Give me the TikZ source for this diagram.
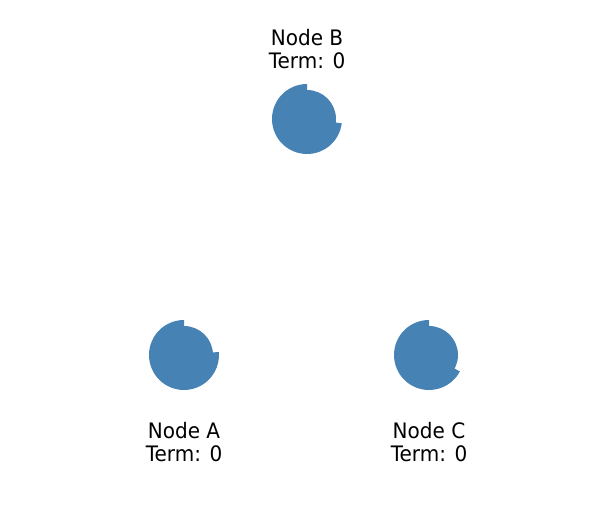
\documentclass[tikz,border=0pt]{standalone}
\usepackage{fontspec}
\setmainfont{DejaVu Sans}[FakeStretch=0.94]
\usetikzlibrary{positioning}
\definecolor{steelblue}{HTML}{4682B4}

\begin{document}
\begin{tikzpicture}[
    x=1pt, y=1pt,
    core/.style={fill=steelblue},
    termlabel/.style={align=center, inner sep=0pt, font=\fontsize{21.3}{22.5}\selectfont}
  ]
  \useasboundingbox (0,0) rectangle (607,520);

  % raft nodes
  \coordinate (a) at (184,165);
  \coordinate (b) at (307,401);
  \coordinate (c) at (429,165);

  % circle plus timeout wedge
  \fill[core] (a) circle (29);
  \fill[core] (a) -- ++(90:35) arc (90:365:35) -- cycle;
  \fill[core] (b) circle (29);
  \fill[core] (b) -- ++(90:35) arc (90:353:35) -- cycle;
  \fill[core] (c) circle (29);
  \fill[core] (c) -- ++(90:35) arc (90:332:35) -- cycle;

  \node[termlabel] (alabel) at ([yshift=-87pt]a) {Node A\\Term: 0};
  \node[termlabel] (blabel) at ([yshift=70pt]b) {Node B\\Term: 0};
  \node[termlabel] (clabel) at ([yshift=-87pt]c) {Node C\\Term: 0};
\end{tikzpicture}
\end{document}
